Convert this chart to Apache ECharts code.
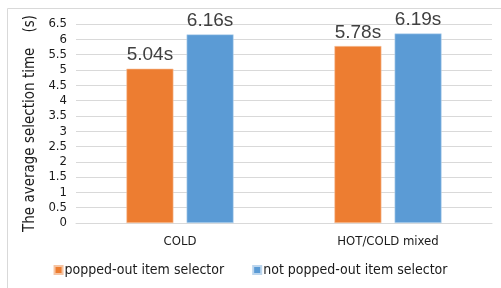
<!DOCTYPE html>
<html>
<head>
<meta charset="utf-8">
<script src="https://cdn.jsdelivr.net/npm/echarts@6/dist/echarts.min.js"></script>
<style>
  html, body { margin: 0; padding: 0; background: #fff; }
  #chart { width: 501px; height: 288px; }
</style>
</head>
<body>
<div id="chart"></div>
<script>
let categories = ['COLD', 'HOT/COLD mixed'];
let poppedOut = [5.04, 5.78];
let notPoppedOut = [6.16, 6.19];
let seriesNames = ['popped-out item selector', 'not popped-out item selector'];

let narrowFont = '"DejaVu Sans Condensed", "Liberation Sans Narrow", "Noto Sans", sans-serif';

let chartDom = document.getElementById('chart');
let myChart = echarts.init(chartDom);

let barLabel = {
    show: true,
    position: 'top',
    distance: 4,
    color: '#404040',
    fontSize: 19,
    fontFamily: '"Liberation Sans", sans-serif',
    formatter: function (p) {
        return p.value.toFixed(2) + 's';
    }
};

let option = {
    animation: false,
    textStyle: { fontFamily: narrowFont },
    graphic: [
        {
            type: 'polyline',
            shape: { points: [[7.5, 288], [7.5, 8.5], [501, 8.5]] },
            style: { stroke: '#d9d9d9', lineWidth: 1, fill: null }
        }
    ],
    legend: {
        bottom: 6,
        left: 'center',
        itemWidth: 8,
        itemHeight: 8,
        itemGap: 28,
        icon: 'rect',
        textStyle: { fontSize: 14, color: '#1a1a1a', fontFamily: narrowFont, padding: [0, 0, 0, -3] },
        data: seriesNames
    },
    grid: { left: 76, right: 9, top: 24, bottom: 65 },
    xAxis: {
        type: 'category',
        data: categories,
        axisLine: { lineStyle: { color: '#d9d9d9' } },
        axisTick: { show: false },
        axisLabel: { color: '#1a1a1a', fontSize: 13, margin: 12, fontFamily: narrowFont }
    },
    yAxis: {
        type: 'value',
        min: 0,
        max: 6.5,
        interval: 0.5,
        name: 'The average selection time\u3000(s)',
        nameLocation: 'middle',
        nameGap: 38,
        nameRotate: 90,
        nameTextStyle: { fontSize: 15, color: '#1a1a1a', fontFamily: narrowFont },
        axisLine: { show: false },
        axisTick: { show: false },
        axisLabel: { color: '#1a1a1a', fontSize: 13, margin: 9, fontFamily: narrowFont },
        splitLine: { lineStyle: { color: '#d9d9d9' } }
    },
    series: [
        {
            name: seriesNames[0],
            type: 'bar',
            data: poppedOut,
            barWidth: 47,
            barGap: '28%',
            itemStyle: { color: '#ED7D31', borderColor: '#f6c4a2', borderWidth: 0.6 },
            label: barLabel
        },
        {
            name: seriesNames[1],
            type: 'bar',
            data: notPoppedOut,
            barWidth: 47,
            itemStyle: { color: '#5B9BD5', borderColor: '#bcd6ee', borderWidth: 0.6 },
            label: barLabel
        }
    ]
};

myChart.setOption(option);
</script>
</body>
</html>
